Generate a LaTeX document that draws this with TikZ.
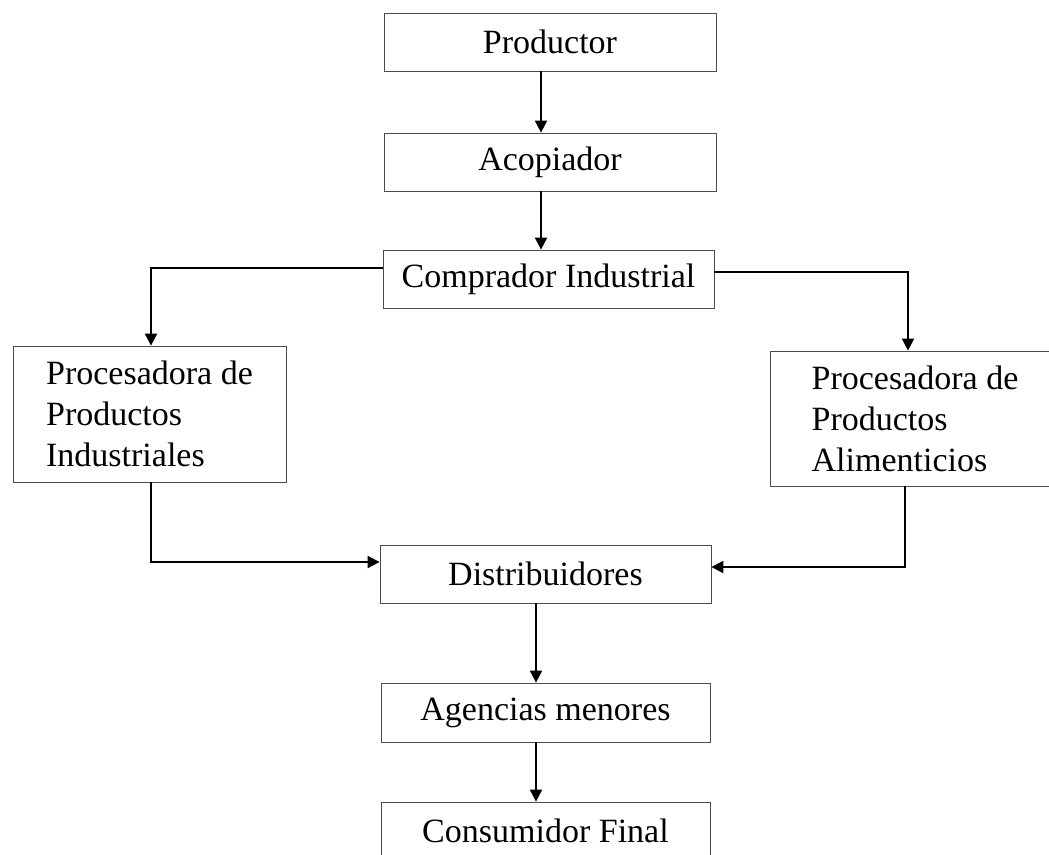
\documentclass[tikz,border=0pt]{standalone}
\usepackage{fontspec}
\setmainfont{Liberation Serif}
\usetikzlibrary{arrows.meta}
\begin{document}
\begin{tikzpicture}[x=1pt,y=-1pt,
  box/.style={draw=black!70, line width=0.8pt, rectangle, inner sep=0pt,
    font=\fontsize{34}{41}\selectfont},
  conn/.style={draw=black, line width=2pt,
    -{Triangle[length=12pt,width=12pt]}}]
\clip (0,0) rectangle (1049,854);
\fill[white] (0,0) rectangle (1049,854);
\node[box, minimum width=332pt, minimum height=58pt] (prod) at (550,42) {Productor};
\node[box, minimum width=332pt, minimum height=58pt] (aco) at (550,162) {Acopiador};
\node[box, minimum width=331pt, minimum height=58pt] (comp) at (548.5,279) {Comprador Industrial};
\node[box, minimum width=273pt, minimum height=136pt, align=left] (pind) at (149.5,414)
  {Procesadora de\\Productos\\Industriales};
\node[box, minimum width=290pt, minimum height=135pt, align=left] (palim) at (915,418.5)
  {Procesadora de\\Productos\\Alimenticios};
\node[box, minimum width=331pt, minimum height=58pt] (dist) at (545.5,574) {Distribuidores};
\node[box, minimum width=329pt, minimum height=59pt] (agen) at (545.5,712.5) {Agencias menores};
\node[box, minimum width=329pt, minimum height=58pt] (cons) at (545.5,831) {Consumidor Final};
\draw[conn] ([xshift=-9pt]prod.south) -- ([xshift=-9pt]aco.north);
\draw[conn] ([xshift=-9pt]aco.south) -- ([xshift=-7.5pt]comp.north);
\draw[conn] ([yshift=11pt]comp.west) -| ([xshift=1.5pt]pind.north);
\draw[conn] ([yshift=7pt]comp.east) -| ([xshift=-7pt]palim.north);
\draw[conn] ([xshift=1.5pt]pind.south) |- ([yshift=12pt]dist.west);
\draw[conn] ([xshift=-10pt]palim.south) |- ([yshift=7pt]dist.east);
\draw[conn] ([xshift=-9.5pt]dist.south) -- ([xshift=-9.5pt]agen.north);
\draw[conn] ([xshift=-9.5pt]agen.south) -- ([xshift=-9.5pt]cons.north);
\end{tikzpicture}
\end{document}
